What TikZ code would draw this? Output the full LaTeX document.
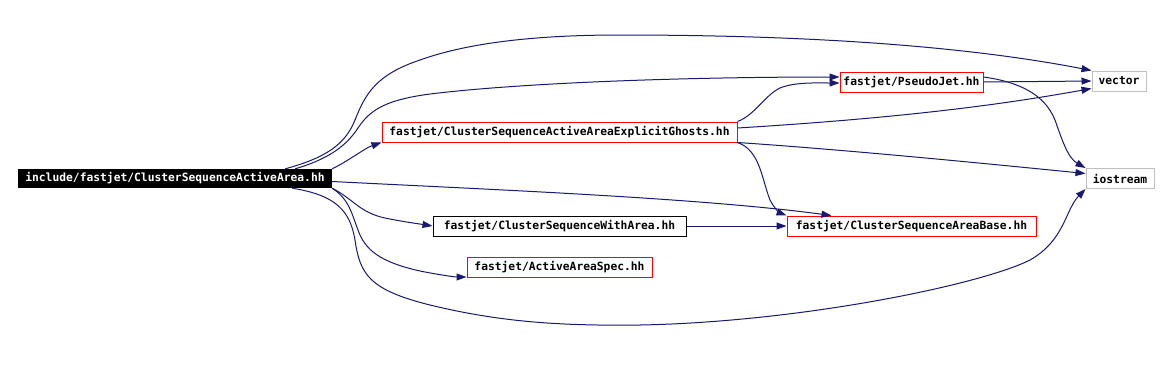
\documentclass[tikz,border=0pt]{standalone}
\usepackage{fontspec}
\setmonofont{DejaVu Sans Mono}
\usetikzlibrary{arrows.meta}
\definecolor{cnavy}{HTML}{191970}
\definecolor{cred}{HTML}{FF0000}
\definecolor{cgrey}{HTML}{BFBFBF}
\tikzset{
  every picture/.style={font=\fontsize{11.3}{13}\selectfont\ttfamily\bfseries, x=1pt, y=-1pt},
  hfile/.style={draw=#1, fill=white, line width=1pt, inner sep=2pt, minimum height=20pt},
  hfile/.default=black,
  hroot/.style={fill=black, text=white, inner sep=2pt, minimum height=19pt},
  dep/.style={-{Triangle[length=10pt, width=7pt]}, draw=cnavy, line width=1pt},
}
\begin{document}
\begin{tikzpicture}
  \useasboundingbox[fill=white] (0,0) rectangle (1169,368);
  \node[hroot, minimum width=314pt] (root) at (175,178.5) {include/fastjet/ClusterSequenceActiveArea.hh};
  \node[hfile=cred, minimum width=355pt] (ghosts) at (559.5,132) {fastjet/ClusterSequenceActiveAreaExplicitGhosts.hh};
  \node[hfile=cred, minimum width=143pt] (pseudo) at (911.5,82) {fastjet/PseudoJet.hh};
  \node[hfile=cgrey, minimum width=54pt] (vector) at (1119,81) {vector};
  \node[hfile=cgrey, minimum width=68pt] (iostream) at (1120,178.5) {iostream};
  \node[hfile, minimum width=253pt] (witharea) at (559.5,226) {fastjet/ClusterSequenceWithArea.hh};
  \node[hfile=cred, minimum width=249pt] (areabase) at (911.5,226) {fastjet/ClusterSequenceAreaBase.hh};
  \node[hfile=cred, minimum width=185pt] (spec) at (559.5,267.5) {fastjet/ActiveAreaSpec.hh};
  \draw[dep] ([xshift=-47pt]root.north east) .. controls (325,158) and (345,145) .. (355,120)
    .. controls (365,95) and (375,75) .. (420,60) .. controls (470,42) and (540,35) .. (620,35)
    .. controls (800,35) and (960,45) .. (vector.north west);
  \draw[dep] ([xshift=-37pt]root.north east) .. controls (325,160) and (345,148) .. (358,128)
    .. controls (370,110) and (385,100) .. (430,94) .. controls (520,83) and (680,77) .. ([yshift=5pt]pseudo.west);
  \draw[dep] (root.north east) .. controls (350,160) and (365,148) .. (ghosts.south west);
  \draw[dep] ([yshift=-3pt]root.east) .. controls (500,190) and (700,198) .. ([xshift=45pt]areabase.north west);
  \draw[dep] (root.south east) .. controls (355,200) and (360,214) .. (390,219)
    .. controls (405,222) and (420,224) .. (witharea.west);
  \draw[dep] (root.south east) .. controls (350,200) and (352,215) .. (358,230)
    .. controls (365,250) and (380,262) .. (420,271) .. controls (440,275) and (455,277) .. ([yshift=1pt]spec.south west);
  \draw[dep] ([xshift=-40pt]root.south east) .. controls (335,195) and (350,210) .. (355,240)
    .. controls (360,275) and (370,290) .. (430,305) .. controls (500,322) and (560,326) .. (640,325)
    .. controls (800,322) and (980,285) .. (1030,260) .. controls (1065,240) and (1065,210) .. (iostream.south west);
  \draw[dep] (ghosts.north east) .. controls (755,115) and (765,95) .. (780,88)
    .. controls (795,82) and (815,83) .. ([yshift=-1pt]pseudo.west);
  \draw[dep] ([yshift=4pt]ghosts.east) .. controls (900,118) and (1000,105) .. ([yshift=3pt]vector.south west);
  \draw[dep] (ghosts.south east) .. controls (850,150) and (1000,165) .. ([yshift=5pt]iostream.west);
  \draw[dep] (ghosts.south east) .. controls (760,150) and (762,180) .. (770,200)
    .. controls (774,208) and (780,213) .. (areabase.north west);
  \draw[dep] (pseudo.east) -- (vector.west);
  \draw[dep] ([yshift=5pt]pseudo.east) .. controls (1020,82) and (1045,95) .. (1055,120)
    .. controls (1062,140) and (1068,158) .. (iostream.north west);
  \draw[dep] (witharea) -- (areabase);
\end{tikzpicture}
\end{document}
